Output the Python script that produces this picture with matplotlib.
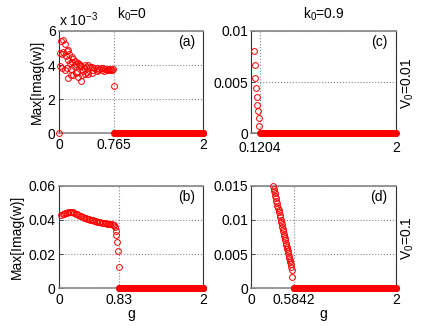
import numpy as np
import matplotlib
matplotlib.use('Agg')
import matplotlib.pyplot as plt

plt.rcParams['font.family'] = ['Liberation Sans', 'DejaVu Sans']
plt.rcParams['mathtext.fontset'] = 'custom'
plt.rcParams['mathtext.rm'] = 'Liberation Sans'
plt.rcParams['mathtext.it'] = 'Liberation Sans:italic'
plt.rcParams['font.size'] = 10

# panel (a): k0=0, V0=0.01 (values in units of 1e-3)
a_g = [0.0, 0.028, 0.06, 0.083, 0.014, 0.06, 0.106, 0.13, 0.143, 0.175,
       0.2, 0.22, 0.26, 0.29, 0.36, 0.405, 0.45, 0.52, 0.61, 0.70, 0.75,
       0.014, 0.046, 0.083, 0.13, 0.16, 0.2, 0.235, 0.27, 0.30, 0.33,
       0.36, 0.405, 0.45, 0.52, 0.59, 0.66,
       0.04, 0.095, 0.12, 0.15, 0.185, 0.21, 0.24, 0.275, 0.285, 0.31,
       0.34, 0.38, 0.43, 0.48, 0.55, 0.58, 0.64, 0.68, 0.72, 0.735,
       0.115, 0.17, 0.25, 0.32, 0.39, 0.47, 0.54, 0.62, 0.69, 0.765]
a_val = [0.0, 5.39, 5.49, 5.24, 4.70, 4.75, 4.80, 4.90, 4.65, 4.50,
         4.35, 4.25, 4.12, 4.00, 4.00, 4.00, 3.92, 3.82, 3.82, 3.76, 3.76,
         3.96, 3.82, 3.73, 3.24, 3.43, 3.43, 3.53, 3.33, 3.10, 3.63,
         3.49, 3.49, 3.53, 3.63, 3.69, 3.73,
         4.65, 4.55, 4.30, 4.10, 4.20, 3.95, 4.05, 4.05, 3.98, 3.95,
         3.85, 3.92, 3.88, 3.85, 3.80, 3.85, 3.78, 3.80, 3.72, 3.74,
         3.85, 3.75, 3.60, 3.45, 3.62, 3.70, 3.72, 3.66, 3.70, 2.78]

# panel (b): k0=0, V0=0.1
b_g = [0.03, 0.05, 0.07, 0.09, 0.11, 0.13, 0.15, 0.17, 0.19, 0.21,
       0.23, 0.25, 0.27, 0.29, 0.31, 0.33, 0.35, 0.37, 0.39, 0.41,
       0.43, 0.45, 0.47, 0.49, 0.51, 0.53, 0.55, 0.57, 0.59, 0.61,
       0.63, 0.65, 0.67, 0.69, 0.71, 0.73, 0.75, 0.76,
       0.769, 0.783, 0.793, 0.807, 0.816, 0.825]
b_val = [0.0430, 0.0433, 0.0436, 0.0440, 0.0443, 0.0445, 0.0446, 0.0446, 0.0444, 0.0441,
         0.0437, 0.0433, 0.0429, 0.0425, 0.0421, 0.0417, 0.0414, 0.0411, 0.0408, 0.0405,
         0.0402, 0.0399, 0.0397, 0.0395, 0.0393, 0.0391, 0.0389, 0.0387, 0.0385, 0.0383,
         0.0382, 0.0380, 0.0379, 0.0378, 0.0377, 0.0375, 0.0373, 0.0371,
         0.0358, 0.0336, 0.0313, 0.0273, 0.0219, 0.0123]

# panel (c): k0=0.9, V0=0.01
c_g = [0.03, 0.042, 0.052, 0.06, 0.07, 0.08, 0.09, 0.10, 0.11]
c_val = [0.0080, 0.00667, 0.00545, 0.00446, 0.00356, 0.0028, 0.00215, 0.00149, 0.00073]

# panel (d): k0=0.9, V0=0.1
d_g = [0.304, 0.311, 0.318, 0.325, 0.332, 0.339, 0.346, 0.353, 0.360, 0.367,
       0.374, 0.381, 0.388, 0.395, 0.402, 0.409, 0.416, 0.423, 0.430, 0.437,
       0.444, 0.451, 0.458, 0.465, 0.472, 0.479, 0.486, 0.493, 0.500, 0.507,
       0.514, 0.521, 0.528, 0.535, 0.542, 0.549, 0.556, 0.567]
d_val = [0.0150, 0.0146, 0.0142, 0.0139, 0.0135, 0.0132, 0.0128, 0.0125, 0.0121, 0.0118,
         0.0114, 0.0111, 0.0107, 0.0104, 0.0100, 0.0097, 0.0094, 0.0090, 0.0087, 0.0084,
         0.0080, 0.0077, 0.0074, 0.0070, 0.0067, 0.0064, 0.0061, 0.0057, 0.0054, 0.0051,
         0.0048, 0.0045, 0.0041, 0.0038, 0.0035, 0.0031, 0.0027, 0.0016]

# threshold g above which Max[Imag(w)] = 0
thresholds = {'a': 0.765, 'b': 0.83, 'c': 0.1204, 'd': 0.5842}
g_step = 0.005

xticks = {'a': [0, 0.765, 2], 'b': [0, 0.83, 2], 'c': [0.1204, 2], 'd': [0, 0.5842, 2]}
xtlabels = {'a': ['0', '0.765', '2'], 'b': ['0', '0.83', '2'],
            'c': ['0.1204', '2'], 'd': ['0', '0.5842', '2']}
yticks = {'a': [0, 2, 4, 6], 'b': [0, 0.02, 0.04, 0.06],
          'c': [0, 0.005, 0.01], 'd': [0, 0.005, 0.01, 0.015]}
ytlabels = {'a': ['0', '2', '4', '6'], 'b': ['0', '0.02', '0.04', '0.06'],
            'c': ['0', '0.005', '0.01'], 'd': ['0', '0.005', '0.01', '0.015']}

data = {'a': (a_g, a_val), 'b': (b_g, b_val), 'c': (c_g, c_val), 'd': (d_g, d_val)}

fig = plt.figure(figsize=(4.36, 3.28), dpi=100)
w, h = 0.3314, 0.3125
pos = {'a': [0.1353, 0.593, w, h], 'c': [0.5768, 0.593, w, h],
       'b': [0.1353, 0.121, w, h], 'd': [0.5768, 0.121, w, h]}

red = '#ff0000'
for key in ['a', 'c', 'b', 'd']:
    ax = fig.add_axes(pos[key])
    g, v = data[key]
    ax.plot(g, v, 'o', ls='none', mfc='none', mec=red, ms=4.2, mew=0.7,
            clip_on=False, zorder=3)
    gz = np.arange(thresholds[key], 2.0 + 1e-9, g_step)
    ax.plot(gz, np.zeros_like(gz), 'o', ls='none', mfc='none', mec=red,
            ms=4.2, mew=0.8, clip_on=False, zorder=3)
    ax.set_xlim(0, 2)
    ax.set_ylim(yticks[key][0], yticks[key][-1])
    ax.set_xticks(xticks[key])
    ax.set_xticklabels(xtlabels[key])
    ax.set_yticks(yticks[key])
    ax.set_yticklabels(ytlabels[key])
    ax.grid(True, ls=':', color='#888888', lw=0.8)
    ax.set_axisbelow(True)
    ax.tick_params(direction='in', length=3, width=0.6, colors='#333333',
                   labelcolor='black', labelsize=10)
    # the 0.1204 label sits right under the y "0" label, so push it down a bit
    ax.tick_params(axis='x', pad=5.5 if key == 'c' else 3.5)
    ax.tick_params(axis='y', pad=2.5)
    for s in ['left', 'right']:
        ax.spines[s].set_color('#333333')
        ax.spines[s].set_linewidth(0.8)
    for s in ['top', 'bottom']:
        ax.spines[s].set_color('#888888')
        ax.spines[s].set_linewidth(1.2)
    ax.text(0.94, 0.96, '(%s)' % key, transform=ax.transAxes,
            ha='right', va='top', fontsize=10)
    if key in ('a', 'b'):
        ax.set_ylabel('Max[Imag(w)]', labelpad=3)
    if key in ('b', 'd'):
        ax.set_xlabel('g', labelpad=0)
    if key == 'a':
        ax.text(0.0, 1.015, r'x 10$^{-3}$', transform=ax.transAxes,
                ha='left', va='bottom', fontsize=10)

fig.text(0.302, 0.957, r'k$_0$=0', ha='center', va='center', fontsize=10)
fig.text(0.743, 0.957, r'k$_0$=0.9', ha='center', va='center', fontsize=10)
fig.text(0.935, 0.747, r'V$_0$=0.01', rotation=90, ha='center', va='center', fontsize=10)
fig.text(0.935, 0.274, r'V$_0$=0.1', rotation=90, ha='center', va='center', fontsize=10)

fig.savefig('out.png', dpi=100)
